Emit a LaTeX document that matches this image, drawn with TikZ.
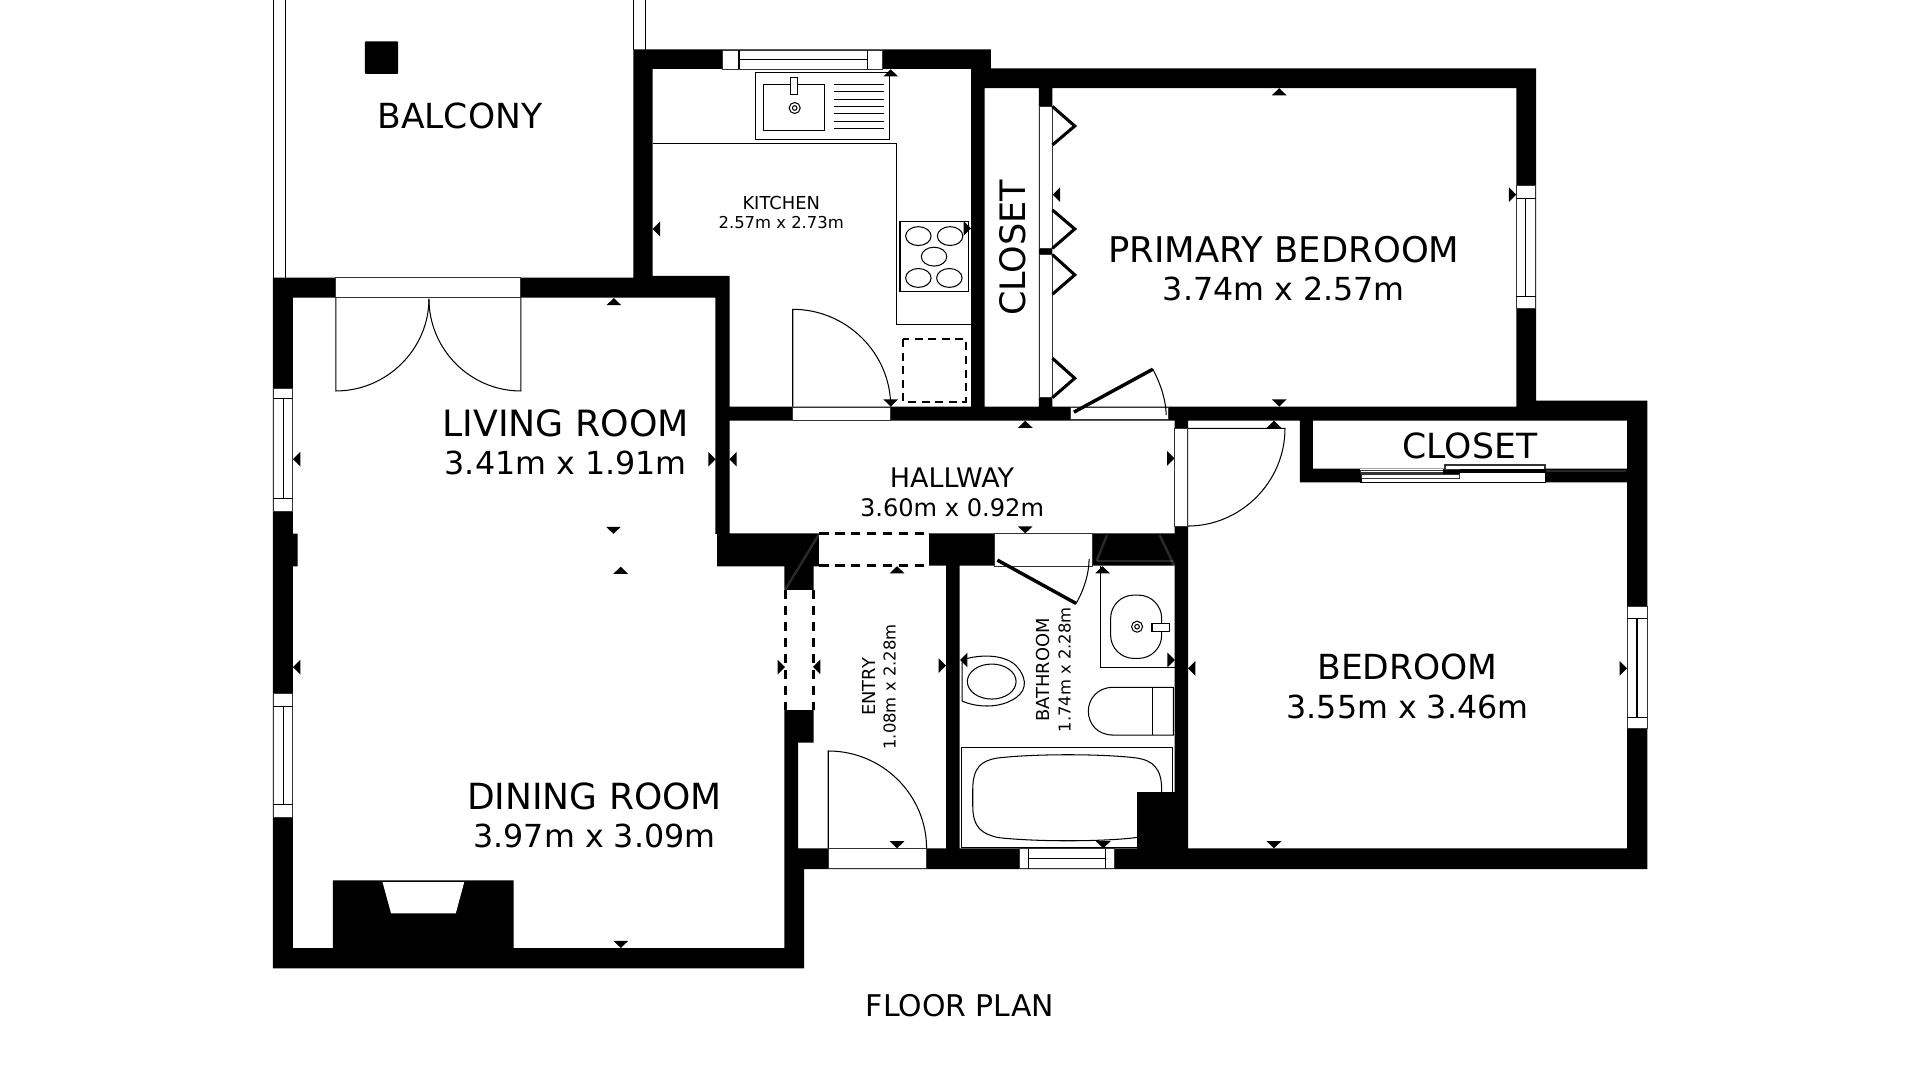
\documentclass[tikz,border=0pt]{standalone}
\usepackage{fontspec}
\setmainfont{DejaVu Sans}
\tikzset{
  thin line/.style={draw=black,line width=0.85pt},
  openwall/.style={fill=white,draw=black!80,line width=0.7pt},
  leaf/.style={draw=black,line width=2.8pt},
  arcline/.style={draw=black,line width=0.85pt},
  dashline/.style={draw=black,line width=2.5pt,dash pattern=on 7.5pt off 5.5pt},
  fold/.style={draw=black,line width=2.5pt,line join=miter},
  big/.style={inner sep=0pt,font=\fontsize{29.4}{29.4}\selectfont},
  dims/.style={inner sep=0pt,font=\fontsize{25.9}{25.9}\selectfont},
  small/.style={inner sep=0pt,font=\fontsize{14.6}{14.6}\selectfont},
  smalldim/.style={inner sep=0pt,font=\fontsize{13.4}{13.4}\selectfont},
  mid/.style={inner sep=0pt,font=\fontsize{22}{22}\selectfont},
  middim/.style={inner sep=0pt,font=\fontsize{19.7}{19.7}\selectfont},
  wmark/.style={draw=white,line width=2pt,opacity=0.16}
}
\newcommand{\tipU}[2]{\fill[black] (#1,#2) -- ++(-6,5.8) -- ++(12,0) -- cycle;}
\newcommand{\tipD}[2]{\fill[black] (#1,#2) -- ++(-6,-5.8) -- ++(12,0) -- cycle;}
\newcommand{\tipL}[2]{\fill[black] (#1,#2) -- ++(6,-6) -- ++(0,12) -- cycle;}
\newcommand{\tipR}[2]{\fill[black] (#1,#2) -- ++(-6,-6) -- ++(0,12) -- cycle;}
\newcommand{\winH}[6]{\path[openwall] (#1,#3) rectangle (#2,#4);
  \draw[thin line] (#5,#3) -- (#5,#4) (#6,#3) -- (#6,#4) (#5,{(#3+#4)/2}) -- (#6,{(#3+#4)/2});}
\newcommand{\winV}[6]{\path[openwall] (#1,#3) rectangle (#2,#4);
  \draw[thin line] (#1,#5) -- (#2,#5) (#1,#6) -- (#2,#6) ({(#1+#2)/2},#5) -- ({(#1+#2)/2},#6);}
\begin{document}
\begin{tikzpicture}[x=1pt,y=-1pt]
\useasboundingbox (0,0) rectangle (1568,882);
\fill[white] (0,0) rectangle (1568,882);

% balcony rails and post
\draw[thin line] (223.5,0) -- (223.5,227) (233.5,0) -- (233.5,227);
\draw[thin line] (517.2,0) -- (517.2,41) (527.2,0) -- (527.2,41);
\fill[black,rounded corners=0.8pt] (297.9,33.8) rectangle (325.2,60.4);

% kitchen fittings
\draw[thin line] (533,117) -- (732.3,117) -- (732.3,265.4) -- (793,265.4);
\draw[thin line] (616.6,59.1) rectangle (726.6,113.8);
\draw[thin line] (623.7,69.2) rectangle (673.5,106.7);
\path[thin line,fill=white] (645.2,63.2) rectangle (651.2,77.3);
\draw[thin line] (649,88.2) circle (4.5) (649,88.2) circle (1.9);
\foreach \yy in {68.9,74.9,80.9,86.9,92.9,98.9,104.9}
  \draw[thin line] (681.1,\yy) -- (721.9,\yy);
\draw[thin line] (735,181) rectangle (790.8,238.2);
\foreach \xx/\yy in {750/192.8,775.9/192.8,762.8/209.6,750/227,775.3/227}
  \draw[thin line] (\xx,\yy) ellipse (10.4 and 7.7);
\draw[black,line width=1.8pt,dash pattern=on 6.5pt off 4.6pt] (737.2,276.9) rectangle (788.6,328);

% bathroom fittings
\draw[thin line] (898.9,462.3) -- (898.9,545) -- (959.3,545);
\draw[thin line,rounded corners=19pt] (907,486) rectangle (948.7,537.7);
\draw[thin line] (928.6,511.8) circle (4.5) (928.6,511.8) circle (1.9);
\path[thin line,fill=white] (940.8,508.8) rectangle (955,515.4);
\draw[thin line] (785.7,539) .. controls (800,534) and (822,534) .. (831,545) .. controls (840,556) and (838,566) .. (826,572) .. controls (815,578) and (798,578) .. (785.7,572.5) -- cycle;
\draw[thin line] (809.9,556.6) ellipse (19.9 and 14.3);
\draw[thin line] (958.2,561.3) -- (909.2,561.3) .. controls (896,561.3) and (888.8,571) .. (888.8,580.8) .. controls (888.8,591) and (896,600.3) .. (909.2,600.3) -- (958.2,600.3) -- cycle;
\draw[thin line] (941.1,561.3) -- (941.1,600.3);
\draw[thin line] (784.9,692) -- (784.9,610.3) -- (957.4,610.3) -- (957.4,648);
\draw[thin line] (784.9,692) -- (930,692);
\draw[thin line] (794.4,645) .. controls (794.4,626) and (802,621) .. (815,619) .. controls (845,615.5) and (900,615.5) .. (928,619) .. controls (942,621) and (948.7,628) .. (948.7,645) -- (948.7,658)
  .. controls (948.7,675) and (942,681) .. (928,684) .. controls (900,687.5) and (845,687.5) .. (815,684) .. controls (802,681) and (794.4,676) .. (794.4,658) -- cycle;

% walls
\fill[black]
  (222.8,226.7) rectangle (239.1,790.8)
  (239,435.8) rectangle (243,462.6)
  (222.8,774.2) rectangle (656.7,790.8)
  (640.5,709) rectangle (656.7,790.8)
  (640.5,606.5) rectangle (651.7,709)
  (640.5,579.8) rectangle (664.5,606.5)
  (640.5,462) rectangle (664.5,481.9)
  (585.6,435.6) rectangle (669.2,462.6)
  (222.8,226.7) rectangle (595.8,243)
  (584.2,225.4) rectangle (595.8,436)
  (517.2,40.3) rectangle (533,243)
  (517.2,225.4) rectangle (595.8,243)
  (517.2,40.3) rectangle (809.3,56.3)
  (793,40.3) rectangle (804,343)
  (793,55.8) rectangle (1254.4,72)
  (1238.3,55.8) rectangle (1254.4,343.5)
  (848.5,72) rectangle (859.5,332)
  (584.2,332) rectangle (1254.4,343.5)
  (959.3,332) rectangle (970.2,709.7)
  (1238.3,327.2) rectangle (1345.3,343.5)
  (970,332) rectangle (1345.3,343.5)
  (1328.7,327.2) rectangle (1345.3,709.7)
  (640.5,692.8) rectangle (1345.3,709.7)
  (1061.6,343.5) rectangle (1072.2,393.9)
  (1061.6,382.7) rectangle (1328.7,393.9)
  (758.3,435.6) rectangle (811.7,462)
  (892,435.6) rectangle (959.3,462)
  (772.6,462) rectangle (783.6,692.8)
  (928.6,647) rectangle (959.3,692.8)
  (271.8,718.9) rectangle (419.4,775);
\fill[white] (312.4,720.4) -- (379.1,720.4) -- (372.2,746) -- (319.4,746) -- cycle;

% faint watermark strokes
\draw[wmark] (641,482) -- (669,436);
\draw[wmark] (895.6,458) -- (904,437);
\draw[wmark] (895.6,458) -- (958,458);
\draw[wmark] (947,437) -- (959,462);
\draw[wmark] (1262,384.5) -- (1328,384.5);

% openings
\path[openwall] (274.3,226.7) rectangle (425.4,243);
\winV{223.3}{239.1}{317}{418}{325.8}{407.3}
\winV{223.3}{239.1}{566.7}{667.3}{576.7}{657.3}
\winH{590}{721}{40.8}{56.3}{603.5}{708.7}
\path[openwall] (647.4,332.7) rectangle (727.4,343);
\winV{1238.3}{1254}{151.6}{251.8}{162}{242}
\path[openwall] (848.7,87) rectangle (859.5,202.8);
\path[openwall] (848.7,208) rectangle (859.5,324.7);
\path[openwall] (874,332.9) rectangle (954.3,342.4);
\path[openwall] (959.3,349.8) rectangle (969.6,429.6);
\winV{1328.7}{1345}{494.9}{594.8}{505}{585.8}
\winH{832.6}{910}{693}{709.4}{839.8}{903}
\path[openwall] (676.4,693) rectangle (756.7,709.4);
\path[openwall] (811.7,436) rectangle (892,462.3);

% closet sliding doors
\fill[white] (1110.6,383.3) rectangle (1261.7,393.5);
\fill[black] (1110.6,386) rectangle (1112,393.9);
\path[openwall,line width=0.7pt] (1110.6,383.8) rectangle (1178.7,386.2);
\path[openwall,line width=1.1pt] (1112,387.2) rectangle (1192,391);
\fill[black] (1178.7,383) rectangle (1192,387.2);
\path[openwall,line width=1.3pt] (1180,379.6) rectangle (1261.7,383.3);
\fill[black] (1192,383.2) rectangle (1261.7,386);
\draw[black,line width=0.7pt] (1110.6,393.6) -- (1261.7,393.6) -- (1261.7,383);

% dashed doorways
\fill[white] (669.2,436) rectangle (758.3,462);
\draw[dashline] (669.2,436) -- (758.3,436) (669.2,461.5) -- (758.3,461.5);
\fill[white] (641,481.9) rectangle (664,579.8);
\draw[dashline] (641.5,482) -- (641.5,579.8) (664,482) -- (664,579.8);

% doors
\draw[arcline] (274.3,243) -- (274.3,319.3) .. controls (316,319.3) and (350.3,285) .. (350.3,244);
\draw[arcline] (425.4,243) -- (425.4,319.3) .. controls (383.7,319.3) and (350.3,285) .. (350.3,244);
\draw[arcline] (647.4,332) -- (647.4,252.6) .. controls (691,252.6) and (727.4,288) .. (727.4,332);
\draw[arcline] (676.4,692.8) -- (676.4,613.3) .. controls (720.5,613.3) and (756.7,649) .. (756.7,692.8);
\draw[arcline] (970,349.8) -- (1049.4,349.8) .. controls (1049.4,394) and (1013,429.6) .. (970,429.6);
\draw[leaf] (814.5,457.4) -- (878.8,492.8);
\draw[arcline] (878.8,492.8) .. controls (884,484) and (889.4,470) .. (889.4,456.5);
\draw[leaf] (877,336.6) -- (941.5,301.5);
\draw[arcline] (941.5,301.5) .. controls (947,312) and (952,325) .. (952.4,338.9);
\draw[fold] (859.5,87) -- (877.7,102.9) -- (859.5,118.4);
\draw[fold] (859.5,171.5) -- (877.7,187) -- (859.5,202.8);
\draw[fold] (859.5,208) -- (877.7,224.5) -- (859.5,240.3);
\draw[fold] (859.5,292.6) -- (877.7,308.9) -- (859.5,324.7);

% measurement ticks
\tipU{727.4}{56.6} \tipL{533}{187} \tipR{793}{186.5} \tipD{727.4}{332}
\tipU{501.3}{243.4} \tipR{584.4}{375} \tipL{595.6}{375} \tipL{239.3}{375}
\tipL{859.7}{159} \tipR{1238.3}{159} \tipU{1044.7}{72} \tipD{1044.7}{332}
\tipU{837.3}{343.6} \tipD{837.3}{435.6} \tipR{959.2}{374.3}
\tipU{1040.4}{343.6} \tipD{1040.4}{692.8} \tipL{970.2}{545.8} \tipR{1328.7}{545.8}
\tipD{501}{436} \tipU{506.9}{462.8} \tipD{507}{774.2}
\tipL{239.3}{544.8} \tipR{641}{544.8} \tipL{664}{544.6}
\tipR{772.6}{543.6} \tipU{732.6}{462.4} \tipD{732.6}{692.8}
\tipU{900.4}{462.4} \tipD{901}{692.8} \tipL{784}{539} \tipR{959.4}{539}

% labels
\node[big,font=\fontsize{28.2}{28.2}\selectfont] (balconyname) at (375.5,94.6) {BALCONY};
\node[small] (kitchenname) at (638,165.5) {KITCHEN};
\node[smalldim] (kitchendim) at (638,182) {2.57m x 2.73m};
\node[big,font=\fontsize{28.6}{28.6}\selectfont,rotate=90] (closetleft) at (827,202.5) {CLOSET};
\node[big,font=\fontsize{28.9}{28.9}\selectfont] (primaryname) at (1048.5,203.5) {PRIMARY BEDROOM};
\node[dims] (primarydim) at (1048.5,236) {3.74m x 2.57m};
\node[big,font=\fontsize{28.3}{28.3}\selectfont] (closetright) at (1200.5,364.4) {CLOSET};
\node[big,font=\fontsize{29.6}{29.6}\selectfont] (livingname) at (462,346) {LIVING ROOM};
\node[dims] (livingdim) at (462,378) {3.41m x 1.91m};
\node[mid] (hallname) at (777.5,390.5) {HALLWAY};
\node[middim] (halldim) at (777.5,415) {3.60m x 0.92m};
\node[small,rotate=90] (entryname) at (710,561) {ENTRY};
\node[smalldim,rotate=90] (entrydim) at (726.5,561) {1.08m x 2.28m};
\node[small,rotate=90] (bathname) at (852,547) {BATHROOM};
\node[smalldim,rotate=90] (bathdim) at (869.5,547) {1.74m x 2.28m};
\node[big,font=\fontsize{28.2}{28.2}\selectfont] (bedname) at (1149.5,544.5) {BEDROOM};
\node[dims] (beddim) at (1149.5,577) {3.55m x 3.46m};
\node[big] (diningname) at (485.5,650.5) {DINING ROOM};
\node[dims] (diningdim) at (485.5,682.5) {3.97m x 3.09m};
\node[inner sep=0pt,font=\fontsize{24.4}{24.4}\selectfont] (planname) at (784,821) {FLOOR PLAN};
\end{tikzpicture}
\end{document}
